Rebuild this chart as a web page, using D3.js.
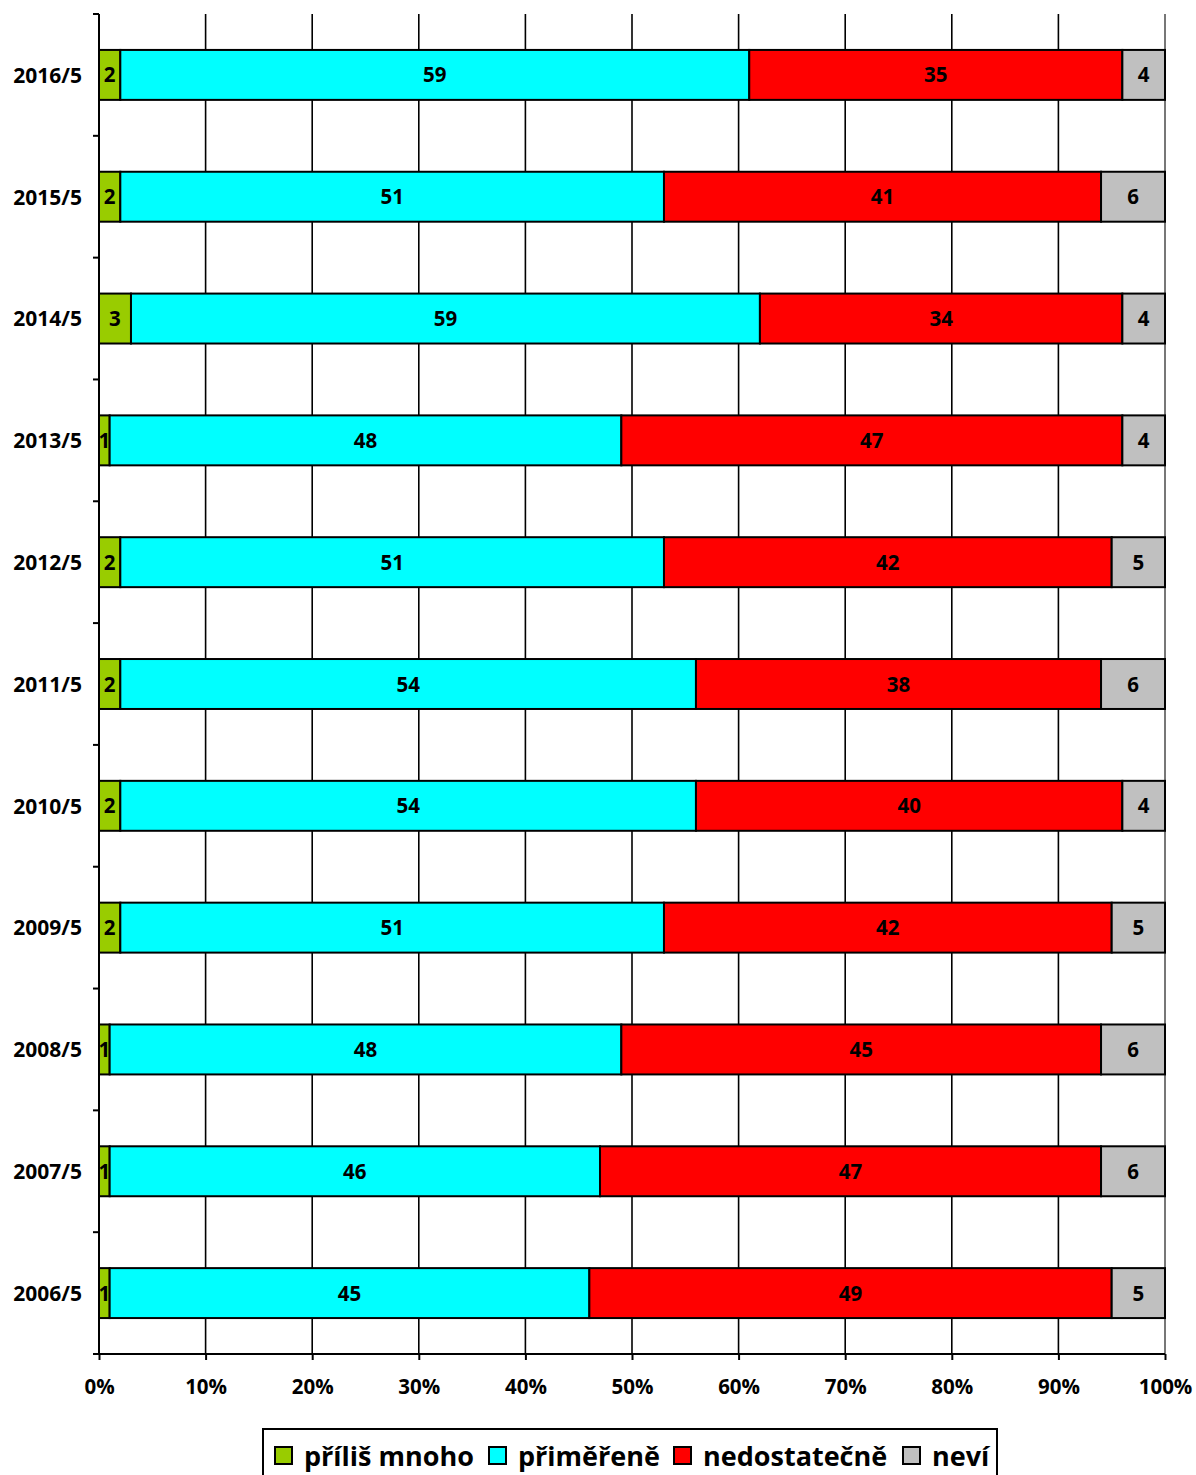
<!DOCTYPE html>
<html><head><meta charset="utf-8">
<script src="https://cdn.jsdelivr.net/npm/d3@7"></script>
<style>body{margin:0;background:#fff;} text{font-family:"Open Sans", Lato, sans-serif;font-weight:bold;}</style>
</head><body>
<svg id="c" width="1196" height="1475"></svg>
<script>
const categories = ["2016/5","2015/5","2014/5","2013/5","2012/5","2011/5","2010/5","2009/5","2008/5","2007/5","2006/5"];
const seriesNames = ["příliš mnoho","přiměřeně","nedostatečně","neví"];
const seriesColors = ["#99cc00","#00ffff","#ff0000","#c0c0c0"];
const prilisMnoho = [2,2,3,1,2,2,2,2,1,1,1];
const primerene   = [59,51,59,48,51,54,54,51,48,46,45];
const nedostatecne= [35,41,34,47,42,38,40,42,45,47,49];
const nevi        = [4,6,4,4,5,6,4,5,6,6,5];
const xTicks = [0,0.1,0.2,0.3,0.4,0.5,0.6,0.7,0.8,0.9,1.0];

const FONT = '"Open Sans", Lato, sans-serif';
const series = [prilisMnoho, primerene, nedostatecne, nevi];
const svg = d3.select("#c");
const L=99, R=1165, T=14, B=1354;
const x = d3.scaleLinear().domain([0,1]).range([L,R]);
const y = d3.scaleBand().domain(categories).range([T,B]).padding(0);
const barH = y.bandwidth()*0.41;

// gridlines
svg.append("g").selectAll("line").data(xTicks.slice(1)).join("line")
  .attr("x1",d=>x(d)).attr("x2",d=>x(d)).attr("y1",T).attr("y2",B)
  .attr("stroke",d=>d===1?"#555":"#000").attr("stroke-width",1.6);

// bars
const rows = categories.map((c,i)=>{
  let cum=0; const tot=series.reduce((s,a)=>s+a[i],0);
  return series.map((a,k)=>{const v=a[i]; const o={cat:c,k,v,x0:cum/tot,x1:(cum+v)/tot}; cum+=v; return o;});
}).flat();
const g = svg.append("g");
g.selectAll("rect").data(rows).join("rect")
  .attr("x",d=>x(d.x0)).attr("width",d=>x(d.x1)-x(d.x0))
  .attr("y",d=>y(d.cat)+y.bandwidth()/2-barH/2).attr("height",barH)
  .attr("fill",d=>seriesColors[d.k]).attr("stroke","#000").attr("stroke-width",2);
g.selectAll("text").data(rows).join("text")
  .attr("x",d=>(x(d.x0)+x(d.x1))/2).attr("y",d=>y(d.cat)+y.bandwidth()/2)
  .attr("dy","0.37em").attr("text-anchor","middle").attr("font-size",20.5).attr("fill","#000")
  .style("font-family",FONT)
  .text(d=>d.v);

// y axis
const ya = svg.append("g").attr("transform",`translate(${L},0)`)
  .call(d3.axisLeft(y).tickSize(0).tickPadding(17));
ya.select(".domain").attr("stroke","#000").attr("stroke-width",2).attr("d",`M0,${T}V${B}`);
ya.selectAll("text").attr("font-size",21).attr("fill","#000").attr("dy","0.37em").style("font-family",FONT).style("font-weight","bold");
// y boundary ticks
const bounds = categories.map(c=>y(c)).concat([B]);
svg.append("g").selectAll("line").data(bounds).join("line")
  .attr("x1",L-6).attr("x2",L).attr("y1",d=>d).attr("y2",d=>d).attr("stroke","#000").attr("stroke-width",2);

// x axis
const xa = svg.append("g").attr("transform",`translate(0,${B})`)
  .call(d3.axisBottom(x).tickValues(xTicks).tickFormat(d3.format(".0%")).tickSize(6).tickPadding(19));
xa.select(".domain").attr("stroke","#000").attr("stroke-width",2).attr("d",`M${L-6},0H${R}`);
xa.selectAll(".tick line").attr("stroke","#000").attr("stroke-width",2);
xa.selectAll("text").attr("font-size",20.5).attr("fill","#000").style("font-family",FONT).style("font-weight","bold");

// legend
const leg = svg.append("g");
leg.append("rect").attr("x",263).attr("y",1429).attr("width",734).attr("height",60)
  .attr("fill","#fff").attr("stroke","#000").attr("stroke-width",2);
const legX = [275,489,674,903];
seriesNames.forEach((n,k)=>{
  leg.append("rect").attr("x",legX[k]).attr("y",1447).attr("width",17).attr("height",17)
    .attr("fill",seriesColors[k]).attr("stroke","#000").attr("stroke-width",2);
  leg.append("text").attr("x",legX[k]+29).attr("y",1456).attr("dy","0.36em")
    .attr("font-size",27).attr("fill","#000").style("font-family",FONT).text(n);
});
</script>
</body></html>
